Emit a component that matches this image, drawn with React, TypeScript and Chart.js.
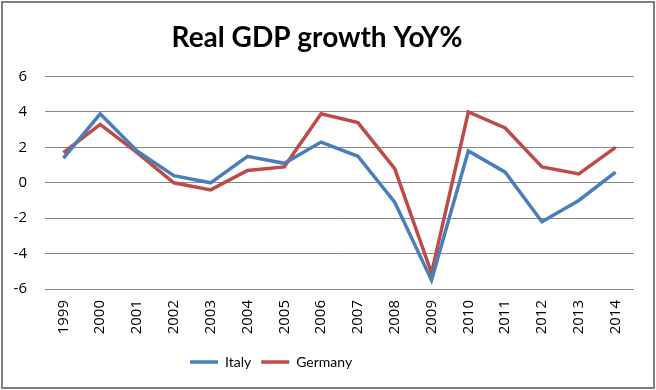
import React, { useEffect, useRef } from "react";
import { Chart, registerables } from "chart.js";

Chart.register(...registerables);

const years = ["1999", "2000", "2001", "2002", "2003", "2004", "2005", "2006", "2007", "2008", "2009", "2010", "2011", "2012", "2013", "2014"];
const italy = [1.4, 3.9, 1.8, 0.4, 0.0, 1.5, 1.1, 2.3, 1.5, -1.1, -5.5, 1.8, 0.6, -2.2, -1.0, 0.6];
const germany = [1.7, 3.3, 1.7, 0.0, -0.4, 0.7, 0.9, 3.9, 3.4, 0.8, -5.1, 4.0, 3.1, 0.9, 0.5, 2.0];
const yMin = -6;
const yMax = 6;
const yStep = 2;
const titleText = "Real GDP growth YoY%";

const BLUE = "#4A7EBB";
const RED = "#BE4B48";

const framePlugin = {
  id: "frame",
  beforeDraw(chart: any) {
    const lg = chart.legend;
    if (lg && lg.lineWidths && lg.lineWidths.length) {
      const pad = lg.options.labels.padding;
      const w = lg.lineWidths[0];
      const target = 190;
      lg.left = 0;
      lg.right = 2 * target - pad + w;
    }
  },
  afterDraw(chart: any) {
    const ctx = chart.ctx;
    ctx.save();
    ctx.strokeStyle = "#808080";
    ctx.lineWidth = 2;
    ctx.strokeRect(2, 2, 652, 386);
    ctx.restore();
  },
};

export default function App() {
  const ref = useRef<HTMLCanvasElement | null>(null);
  useEffect(() => {
    const canvas = ref.current;
    if (!canvas) return;
    const chart = new Chart(canvas, {
      type: "line",
      data: {
        labels: years,
        datasets: [
          { label: "Italy", data: italy, borderColor: BLUE, backgroundColor: BLUE, borderWidth: 3.5, pointRadius: 0, tension: 0 },
          { label: "Germany", data: germany, borderColor: RED, backgroundColor: RED, borderWidth: 3.5, pointRadius: 0, tension: 0 },
        ],
      },
      options: {
        responsive: false,
        animation: false,
        layout: { padding: { left: 0, right: 22, top: 0, bottom: 11 } },
        plugins: {
          title: {
            display: true,
            text: titleText,
            color: "#000",
            font: { family: "Lato", size: 28, weight: "bold" },
            padding: { top: 21, bottom: 22 },
          },
          legend: {
            position: "bottom",
            labels: {
              usePointStyle: true,
              pointStyle: "line",
              pointStyleWidth: 28,
              boxHeight: 14,
              padding: 10,
              color: "#000",
              font: { family: "Lato", size: 14 },
            },
          },
          tooltip: { enabled: false },
        },
        scales: {
          x: {
            offset: true,
            grid: { display: false, drawTicks: false },
            border: { display: false },
            ticks: {
              minRotation: 90,
              maxRotation: 90,
              padding: 11,
              color: "#000",
              font: { family: "Open Sans", size: 15 },
            },
            afterFit(scale: any) {
              scale.height = 56;
            },
          },
          y: {
            min: yMin,
            max: yMax,
            grid: { color: "#878787", lineWidth: 1, drawTicks: false },
            border: { display: false },
            ticks: {
              stepSize: yStep,
              padding: 18,
              color: "#000",
              font: { family: "Open Sans", size: 15 },
            },
            afterFit(scale: any) {
              scale.width = 45;
            },
          },
        },
      },
      plugins: [framePlugin],
    });
    return () => chart.destroy();
  }, []);
  return (
    <div style={{ position: "fixed", left: 0, top: 0, width: 656, height: 390, background: "#fff" }}>
      <canvas ref={ref} width={656} height={390} />
    </div>
  );
}
